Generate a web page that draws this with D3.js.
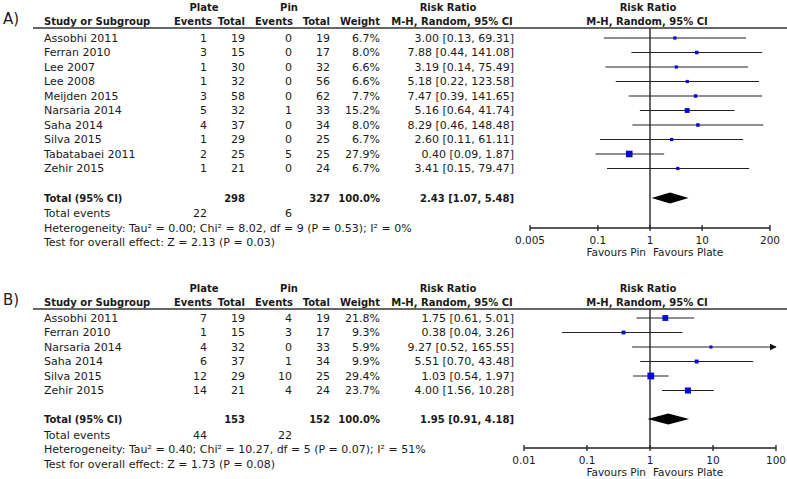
<!DOCTYPE html>
<html>
<head>
<meta charset="utf-8">
<script src="https://cdn.jsdelivr.net/npm/d3@7"></script>
<style>
  body { margin: 0; background: #fff; }
  svg text { font-family: "DejaVu Sans", Verdana, sans-serif; fill: #1a1a1a; }
</style>
</head>
<body>
<div id="chart"></div>
<script>
// 패널 A 데이터
const studiesA = ['Assobhi 2011', 'Ferran 2010', 'Lee 2007', 'Lee 2008', 'Meijden 2015',
    'Narsaria 2014', 'Saha 2014', 'Silva 2015', 'Tabatabaei 2011', 'Zehir 2015'];
const plateEventsA = [1, 3, 1, 1, 3, 5, 4, 1, 2, 1];
const plateTotalA = [19, 15, 30, 32, 58, 32, 37, 29, 25, 21];
const pinEventsA = [0, 0, 0, 0, 0, 1, 0, 0, 5, 0];
const pinTotalA = [19, 17, 32, 56, 62, 33, 34, 25, 25, 24];
const weightA = [6.7, 8.0, 6.6, 6.6, 7.7, 15.2, 8.0, 6.7, 27.9, 6.7];
const rrA = [3.00, 7.88, 3.19, 5.18, 7.47, 5.16, 8.29, 2.60, 0.40, 3.41];
const lowA = [0.13, 0.44, 0.14, 0.22, 0.39, 0.64, 0.46, 0.11, 0.09, 0.15];
const highA = [69.31, 141.08, 75.49, 123.58, 141.65, 41.74, 148.48, 61.11, 1.87, 79.47];
const totalA = { plateTotal: 298, pinTotal: 327, plateEvents: 22, pinEvents: 6, rr: 2.43, low: 1.07, high: 5.48 };
const hetA = 'Heterogeneity: Tau² = 0.00; Chi² = 8.02, df = 9 (P = 0.53); I² = 0%';
const testA = 'Test for overall effect: Z = 2.13 (P = 0.03)';
const ticksA = [0.005, 0.1, 1, 10, 200];

// 패널 B 데이터
const studiesB = ['Assobhi 2011', 'Ferran 2010', 'Narsaria 2014', 'Saha 2014', 'Silva 2015', 'Zehir 2015'];
const plateEventsB = [7, 1, 4, 6, 12, 14];
const plateTotalB = [19, 15, 32, 37, 29, 21];
const pinEventsB = [4, 3, 0, 1, 10, 4];
const pinTotalB = [19, 17, 33, 34, 25, 24];
const weightB = [21.8, 9.3, 5.9, 9.9, 29.4, 23.7];
const rrB = [1.75, 0.38, 9.27, 5.51, 1.03, 4.00];
const lowB = [0.61, 0.04, 0.52, 0.70, 0.54, 1.56];
const highB = [5.01, 3.26, 165.55, 43.48, 1.97, 10.28];
const totalB = { plateTotal: 153, pinTotal: 152, plateEvents: 44, pinEvents: 22, rr: 1.95, low: 0.91, high: 4.18 };
const hetB = 'Heterogeneity: Tau² = 0.40; Chi² = 10.27, df = 5 (P = 0.07); I² = 51%';
const testB = 'Test for overall effect: Z = 1.73 (P = 0.08)';
const ticksB = [0.01, 0.1, 1, 10, 100];

const W = 787, H = 479;
const svg = d3.select('#chart').append('svg')
    .attr('width', W).attr('height', H);

svg.append('defs').append('marker')
    .attr('id', 'arrow')
    .attr('viewBox', '0 0 10 10')
    .attr('refX', 9).attr('refY', 5)
    .attr('markerWidth', 7).attr('markerHeight', 7)
    .attr('markerUnits', 'userSpaceOnUse')
    .attr('orient', 'auto')
    .append('path').attr('d', 'M0,0 L10,5 L0,10 z').attr('fill', '#111');

const fmt = d3.format('.2f');
const FS = 11;   // 일반 글자
const FSB = 10;  // 굵은 글자 (DejaVu Bold가 넓어서 조금 작게)

// 열 위치
const col = { name: 44, plateEv: 207, plateTot: 245, pinEv: 292, pinTot: 330, weight: 380, rr: 514 };

function txt(x, y, s, opt = {}) {
    return svg.append('text')
        .attr('x', x).attr('y', y)
        .attr('dy', '0.35em')
        .attr('font-size', opt.size || (opt.bold ? FSB : FS))
        .attr('font-weight', opt.bold ? 'bold' : 'normal')
        .attr('text-anchor', opt.anchor || 'start')
        .text(s);
}

function drawPanel(p) {
    const x = d3.scaleLog().domain(p.domain).range(p.range);

    // 패널 라벨
    txt(3, p.headerY - 2, p.label, { size: 15 });

    // 헤더
    txt(204, p.plateY, 'Plate', { bold: true, anchor: 'middle' });
    txt(289, p.plateY, 'Pin', { bold: true, anchor: 'middle' });
    txt(448, p.plateY, 'Risk Ratio', { bold: true, anchor: 'middle' });
    txt(648, p.plateY, 'Risk Ratio', { bold: true, anchor: 'middle' });
    txt(col.name, p.headerY, 'Study or Subgroup', { bold: true });
    txt(212, p.headerY, 'Events', { bold: true, anchor: 'end' });
    txt(245, p.headerY, 'Total', { bold: true, anchor: 'end' });
    txt(293, p.headerY, 'Events', { bold: true, anchor: 'end' });
    txt(330, p.headerY, 'Total', { bold: true, anchor: 'end' });
    txt(380, p.headerY, 'Weight', { bold: true, anchor: 'end' });
    txt(452, p.headerY, 'M-H, Random, 95% CI', { bold: true, anchor: 'middle' });
    txt(647, p.headerY, 'M-H, Random, 95% CI', { bold: true, anchor: 'middle' });

    svg.append('line')
        .attr('x1', 33).attr('x2', W)
        .attr('y1', p.lineY).attr('y2', p.lineY)
        .attr('stroke', '#333').attr('stroke-width', 1.5);

    // 기준선 (RR = 1)
    svg.append('line')
        .attr('x1', x(1)).attr('x2', x(1))
        .attr('y1', p.lineY).attr('y2', p.axisY)
        .attr('stroke', '#333').attr('stroke-width', 1.5);

    const maxV = p.domain[1];
    const minV = p.domain[0];

    // 각 연구 행
    p.studies.forEach((s, i) => {
        const y = p.row0 + i * p.step;
        txt(col.name, y, s);
        txt(col.plateEv, y, p.plateEvents[i], { anchor: 'end' });
        txt(col.plateTot, y, p.plateTotal[i], { anchor: 'end' });
        txt(col.pinEv, y, p.pinEvents[i], { anchor: 'end' });
        txt(col.pinTot, y, p.pinTotal[i], { anchor: 'end' });
        txt(col.weight, y, p.weight[i].toFixed(1) + '%', { anchor: 'end' });
        txt(col.rr, y, `${fmt(p.rr[i])} [${fmt(p.low[i])}, ${fmt(p.high[i])}]`, { anchor: 'end' });

        // 신뢰구간 선
        const clipped = p.high[i] > maxV;
        const ln = svg.append('line')
            .attr('x1', x(Math.max(p.low[i], minV)))
            .attr('x2', x(Math.min(p.high[i], maxV)))
            .attr('y1', y).attr('y2', y)
            .attr('stroke', '#222').attr('stroke-width', 1.2);
        if (clipped) ln.attr('marker-end', 'url(#arrow)');

        // 가중치 상자
        const side = 1.25 * Math.sqrt(p.weight[i]);
        svg.append('rect')
            .attr('x', x(p.rr[i]) - side / 2)
            .attr('y', y - side / 2)
            .attr('width', side).attr('height', side)
            .attr('fill', '#0a0ad6');
    });

    // 합계 행
    const t = p.total;
    txt(col.name, p.totalY, 'Total (95% CI)', { bold: true });
    txt(col.plateTot, p.totalY, t.plateTotal, { bold: true, anchor: 'end' });
    txt(col.pinTot, p.totalY, t.pinTotal, { bold: true, anchor: 'end' });
    txt(col.weight, p.totalY, '100.0%', { bold: true, anchor: 'end' });
    txt(col.rr, p.totalY, `${fmt(t.rr)} [${fmt(t.low)}, ${fmt(t.high)}]`, { bold: true, anchor: 'end' });

    const dh = 5.5;
    svg.append('path')
        .attr('d', `M${x(t.low)},${p.totalY} L${x(t.rr)},${p.totalY - dh} L${x(t.high)},${p.totalY} L${x(t.rr)},${p.totalY + dh} Z`)
        .attr('fill', '#000');

    txt(col.name, p.eventsY, 'Total events');
    txt(col.plateEv, p.eventsY, t.plateEvents, { anchor: 'end' });
    txt(col.pinEv, p.eventsY, t.pinEvents, { anchor: 'end' });
    txt(col.name, p.hetY, p.het);
    txt(col.name, p.testY, p.test);

    // 축
    svg.append('line')
        .attr('x1', p.range[0]).attr('x2', p.range[1])
        .attr('y1', p.axisY).attr('y2', p.axisY)
        .attr('stroke', '#222').attr('stroke-width', 1.5);
    p.ticks.forEach(v => {
        svg.append('line')
            .attr('x1', x(v)).attr('x2', x(v))
            .attr('y1', p.axisY - 3).attr('y2', p.axisY + 3)
            .attr('stroke', '#222').attr('stroke-width', 1.3);
        txt(x(v), p.axisY + 12, v, { anchor: 'middle', size: 10.5 });
    });
    txt(x(1) - 4, p.axisY + 24, 'Favours Pin', { anchor: 'end', size: 10.5 });
    txt(x(1) + 3, p.axisY + 24, 'Favours Plate', { size: 10.5 });
}

drawPanel({
    label: 'A)', domain: [0.005, 200], range: [530, 770], ticks: ticksA,
    plateY: 7, headerY: 21, lineY: 28, row0: 38, step: 14.5,
    totalY: 198, eventsY: 213, hetY: 228, testY: 242, axisY: 228,
    studies: studiesA, plateEvents: plateEventsA, plateTotal: plateTotalA,
    pinEvents: pinEventsA, pinTotal: pinTotalA, weight: weightA,
    rr: rrA, low: lowA, high: highA, total: totalA, het: hetA, test: testA
});

drawPanel({
    label: 'B)', domain: [0.01, 100], range: [524, 776], ticks: ticksB,
    plateY: 288, headerY: 302, lineY: 309, row0: 318, step: 14.5,
    totalY: 419, eventsY: 435, hetY: 449, testY: 464, axisY: 448,
    studies: studiesB, plateEvents: plateEventsB, plateTotal: plateTotalB,
    pinEvents: pinEventsB, pinTotal: pinTotalB, weight: weightB,
    rr: rrB, low: lowB, high: highB, total: totalB, het: hetB, test: testB
});
</script>
</body>
</html>
